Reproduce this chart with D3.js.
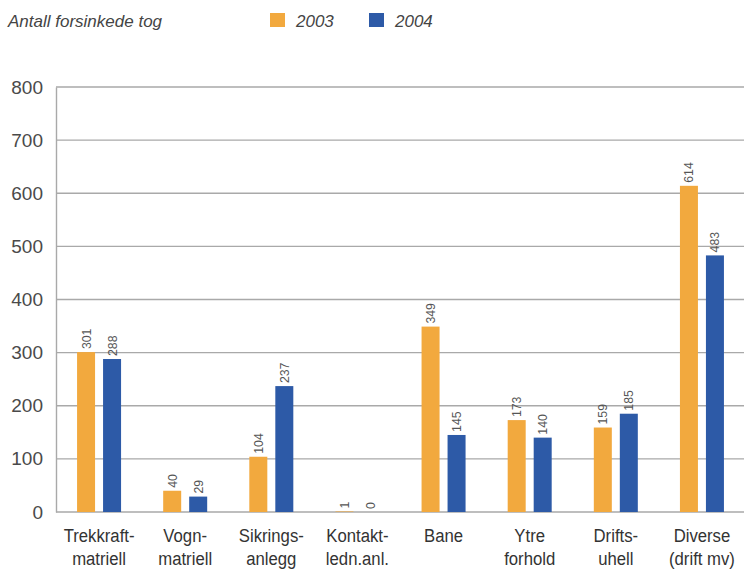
<!DOCTYPE html>
<html>
<head>
<meta charset="utf-8">
<script src="https://cdn.jsdelivr.net/npm/d3@7"></script>
<style>
  html, body { margin: 0; padding: 0; background: #fff; }
  svg { display: block; }
</style>
</head>
<body>
<svg id="chart" width="744" height="571"></svg>
<script>
// Delayed trains by cause, 2003 vs 2004
const categories = [
  ["Trekkraft-", "matriell"],
  ["Vogn-", "matriell"],
  ["Sikrings-", "anlegg"],
  ["Kontakt-", "ledn.anl."],
  ["Bane"],
  ["Ytre", "forhold"],
  ["Drifts-", "uhell"],
  ["Diverse", "(drift mv)"]
];
const seriesNames = ["2003", "2004"];
const values2003 = [301, 40, 104, 1, 349, 173, 159, 614];
const values2004 = [288, 29, 237, 0, 145, 140, 185, 483];
const yTicks = [0, 100, 200, 300, 400, 500, 600, 700, 800];
const seriesColors = ["#F2A93E", "#2D5AA7"];

const svg = d3.select("#chart");
const margin = { left: 56, top: 87, bottom: 512 };
const baseFont = "'Liberation Sans', Arial, sans-serif";

const x = d3.scaleBand()
  .domain(d3.range(categories.length))
  .range([56, 745])
  .paddingInner(0)
  .paddingOuter(0);

const xSub = d3.scaleBand()
  .domain(seriesNames)
  .range([0, 44])
  .paddingInner(8 / 26)
  .paddingOuter(0);

const y = d3.scaleLinear().domain([0, 800]).range([margin.bottom, margin.top]);

// gridlines
svg.append("g")
  .selectAll("line")
  .data(yTicks)
  .join("line")
  .attr("x1", margin.left)
  .attr("x2", 744)
  .attr("y1", d => y(d))
  .attr("y2", d => y(d))
  .attr("stroke", "#a9a9a9")
  .attr("stroke-width", 1.4);

// y axis
const yAxis = d3.axisLeft(y).tickValues(yTicks).tickSize(0).tickPadding(13);
const gy = svg.append("g").attr("transform", `translate(${margin.left},0)`).call(yAxis);
gy.select(".domain").attr("stroke", "#a9a9a9").attr("stroke-width", 1.4);
gy.selectAll("text")
  .attr("font-family", baseFont)
  .attr("font-size", 19)
  .attr("fill", "#4a4a4a");

// bars
const series = [values2003, values2004];
const groups = svg.append("g")
  .selectAll("g")
  .data(categories.map((c, i) => i))
  .join("g")
  .attr("transform", i => `translate(${x(i) + x.bandwidth() / 2 - 22},0)`);

groups.selectAll("rect")
  .data(i => seriesNames.map((s, k) => ({ s, k, v: series[k][i] })))
  .join("rect")
  .attr("x", d => xSub(d.s))
  .attr("width", xSub.bandwidth())
  .attr("y", d => y(d.v))
  .attr("height", d => y(0) - y(d.v))
  .attr("fill", d => seriesColors[d.k]);

// value labels, rotated above each bar
groups.selectAll("text.val")
  .data(i => seriesNames.map((s, k) => ({ s, k, v: series[k][i] })))
  .join("text")
  .attr("class", "val")
  .attr("transform", d => `translate(${xSub(d.s) + xSub.bandwidth() / 2 + 4.5},${y(d.v) - 3}) rotate(-90) scale(0.95,1)`)
  .attr("font-family", baseFont)
  .attr("font-size", 13)
  .attr("fill", "#555")
  .text(d => d.v);

// category labels (two lines, slightly condensed)
const xl = svg.append("g");
categories.forEach((lines, i) => {
  const cx = x(i) + x.bandwidth() / 2;
  const t = xl.append("text")
    .attr("transform", `translate(${cx},542) scale(0.88,1)`)
    .attr("text-anchor", "middle")
    .attr("font-family", baseFont)
    .attr("font-size", 19)
    .attr("fill", "#333");
  lines.forEach((ln, j) => {
    t.append("tspan")
      .attr("x", 0)
      .attr("dy", j === 0 ? 0 : 23)
      .text(ln);
  });
});

// title and legend
svg.append("text")
  .attr("x", 8)
  .attr("y", 27)
  .attr("font-family", baseFont)
  .attr("font-style", "italic")
  .attr("font-size", 17)
  .attr("fill", "#444")
  .text("Antall forsinkede tog");

const legendX = [270, 369];
const leg = svg.append("g")
  .selectAll("g")
  .data(seriesNames)
  .join("g")
  .attr("transform", (d, k) => `translate(${legendX[k]},0)`);
leg.append("rect")
  .attr("x", 0).attr("y", 13)
  .attr("width", 15).attr("height", 14)
  .attr("fill", (d, k) => seriesColors[k]);
leg.append("text")
  .attr("x", 26).attr("y", 27)
  .attr("font-family", baseFont)
  .attr("font-style", "italic")
  .attr("font-size", 17)
  .attr("fill", "#444")
  .text(d => d);
</script>
</body>
</html>
